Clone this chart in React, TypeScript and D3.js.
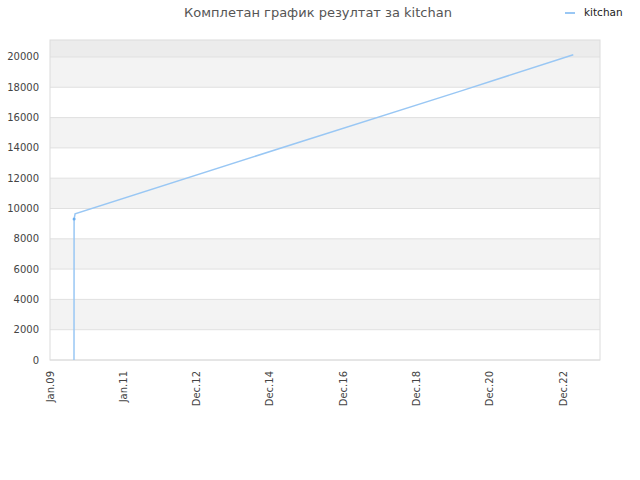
import React from 'react'
import * as d3 from 'd3'

const title = 'Комплетан график резултат за kitchan'
const seriesName = 'kitchan'
const dates = ['2009-08-28', '2009-08-29', '2009-09-08', '2015-10-27', '2020-03-20', '2023-04-10']
const values = [0, 9300, 9650, 14390, 17760, 20150]
const yTicks = [0, 2000, 4000, 6000, 8000, 10000, 12000, 14000, 16000, 18000, 20000]
const xTickDates = ['2009-01-01', '2011-01-01', '2012-12-31', '2014-12-31', '2016-12-30', '2018-12-30', '2020-12-29', '2022-12-29']
const xTickLabels = ['Jan.09', 'Jan.11', 'Dec.12', 'Dec.14', 'Dec.16', 'Dec.18', 'Dec.20', 'Dec.22']

const width = 640
const height = 480
const margin = { top: 40, right: 40, bottom: 120, left: 50 }
const font = '"DejaVu Sans", Verdana, sans-serif'

const App = () => {
  const innerW = width - margin.left - margin.right
  const innerH = height - margin.top - margin.bottom
  const parse = d3.utcParse('%Y-%m-%d')

  const x = d3
    .scaleUtc()
    .domain([parse('2009-01-01') as Date, parse('2024-01-01') as Date])
    .range([0, innerW])
  const y = d3.scaleLinear().domain([0, 21120]).range([innerH, 0])

  const points = dates.map((d, i) => ({ date: parse(d) as Date, value: values[i] }))
  const line = d3
    .line<{ date: Date; value: number }>()
    .x((d) => x(d.date))
    .y((d) => y(d.value))

  // alternating bands between gridlines
  const bands = yTicks.map((t, i) => ({
    y0: t,
    y1: i + 1 < yTicks.length ? yTicks[i + 1] : y.domain()[1],
    fill: i === yTicks.length - 1 ? '#ececec' : i % 2 === 1 ? '#f3f3f3' : '#ffffff',
  }))

  return (
    <svg width={width} height={height} style={{ position: 'absolute', left: 0, top: 0, background: '#fff' }}>
      <text x={318} y={17} textAnchor="middle" fontFamily={font} fontSize={13} fill="#555">
        {title}
      </text>
      <line x1={565} x2={575} y1={13} y2={13} stroke="#99c7f4" strokeWidth={2} />
      <text x={584} y={16} fontFamily={font} fontSize={10.5} fill="#222">
        {seriesName}
      </text>
      <g transform={`translate(${margin.left},${margin.top})`}>
        {bands.map((b, i) => (
          <rect key={i} x={0} width={innerW} y={y(b.y1)} height={y(b.y0) - y(b.y1)} fill={b.fill} />
        ))}
        {yTicks.map((t) => (
          <g key={t}>
            <line x1={0} x2={innerW} y1={y(t)} y2={y(t)} stroke="#e0e0e0" />
            <text x={-11} y={y(t)} dy="0.35em" textAnchor="end" fontFamily={font} fontSize={10} fill="#444">
              {t}
            </text>
          </g>
        ))}
        <rect x={0} y={0} width={innerW} height={innerH} fill="none" stroke="#dcdcdc" />
        <path d={line(points) ?? ''} fill="none" stroke="#99c7f4" strokeWidth={1.5} />
        <circle cx={x(points[1].date)} cy={y(points[1].value)} r={1.5} fill="#6aaef0" />
        {xTickDates.map((d, i) => (
          <text
            key={d}
            transform={`translate(${x(parse(d) as Date)},${innerH + 11}) rotate(-90)`}
            dy="0.35em"
            textAnchor="end"
            fontFamily={font}
            fontSize={10}
            fill="#444"
          >
            {xTickLabels[i]}
          </text>
        ))}
      </g>
    </svg>
  )
}

export default App
